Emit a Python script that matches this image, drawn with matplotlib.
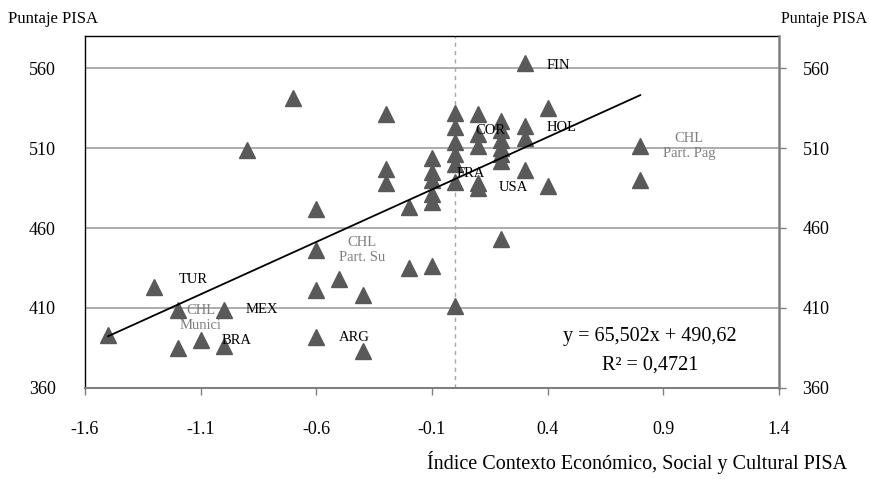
import numpy as np
import matplotlib
matplotlib.use("Agg")
import matplotlib.pyplot as plt

plt.rcParams['font.family'] = ['Liberation Serif', 'DejaVu Serif']
plt.rcParams['axes.unicode_minus'] = False

# ===== DATA =====
index_escs = [-1.5, -1.3, -1.2, -1.2, -1.1, -1.0, -1.0, -0.9, -0.7,
              -0.6, -0.6, -0.6, -0.6, -0.5, -0.4, -0.4, -0.3, -0.3, -0.3, -0.2, -0.2,
              -0.1, -0.1, -0.1, -0.1, -0.1, -0.1,
              0.0, 0.0, 0.0, 0.0, 0.0, 0.0, 0.0,
              0.1, 0.1, 0.1, 0.1, 0.1,
              0.2, 0.2, 0.2, 0.2, 0.2, 0.2, 0.2,
              0.3, 0.3, 0.3, 0.3,
              0.4, 0.4,
              0.8, 0.8]
pisa_score = [393, 423, 409, 385, 390, 409, 386, 509, 541,
              472, 446, 421, 392, 428, 418, 383, 531, 497, 488, 473, 435,
              504, 495, 490, 481, 476, 436,
              532, 523, 514, 506, 500, 489, 411,
              531, 519, 511, 488, 485,
              527, 521, 515, 510, 506, 502, 453,
              563, 524, 516, 496,
              535, 486,
              511, 490]

label_names = ["TUR", "CHL\nMunici", "MEX", "BRA", "CHL\nPart. Su", "ARG",
               "FRA", "COR", "USA", "FIN", "HOL", "CHL\nPart. Pag"]
label_points = [1, 2, 5, 6, 10, 12, 32, 35, 38, 46, 47, 52]

trend_slope = 65.502
trend_intercept = 490.62
r_squared = 0.4721

x_ticks = [-1.6, -1.1, -0.6, -0.1, 0.4, 0.9, 1.4]
y_ticks = [360, 410, 460, 510, 560]

# label layout: offset in pixels from the point, colour, alignment
label_style = {
    "TUR": ((24, 8), "black", "left"),
    "CHL\nMunici": ((23, -8), "#7f7f7f", "center"),
    "MEX": ((22, 0), "black", "left"),
    "BRA": ((-2, 6), "black", "left"),
    "CHL\nPart. Su": ((46, 0), "#7f7f7f", "center"),
    "ARG": ((23, -1), "black", "left"),
    "FRA": ((1, 8), "black", "left"),
    "COR": ((-3, 3), "black", "left"),
    "USA": ((20, 1), "black", "left"),
    "FIN": ((22, -2), "black", "left"),
    "HOL": ((22, -2), "black", "left"),
    "CHL\nPart. Pag": ((49, 0), "#7f7f7f", "center"),
}

fig = plt.figure(figsize=(8.7, 4.79), dpi=100)
ax = fig.add_axes([85 / 870, 1 - 388 / 479, 694 / 870, 352 / 479])

ax.set_xlim(-1.6, 1.4)
ax.set_ylim(360, 580)

# grid and zero line
ax.set_yticks(y_ticks)
ax.yaxis.grid(True, color="#a6a6a6", lw=1.3)
ax.set_axisbelow(True)
ax.axvline(0, color="#a6a6a6", lw=1, ls=(0, (3, 3)), zorder=1)

# points
ax.plot(index_escs, pisa_score, ls="none", marker="^", ms=11,
        color="#595959", zorder=3)

# trend line
xs = np.array([min(index_escs), max(index_escs)])
ax.plot(xs, trend_slope * xs + trend_intercept, color="black", lw=1.3, zorder=4)

# country labels
for name, idx in zip(label_names, label_points):
    (dx, dy), col, ha = label_style[name]
    ax.annotate(name, xy=(index_escs[idx], pisa_score[idx]), xytext=(dx, dy),
                textcoords="offset pixels", ha=ha, va="center", color=col,
                fontsize=10.5, multialignment="center", zorder=5)

# equation
ax.text(0.814, 0.147, "y = 65,502x + 490,62", transform=ax.transAxes,
        ha="center", va="center", fontsize=14.5)
ax.text(0.814, 0.066, "R² = 0,4721", transform=ax.transAxes,
        ha="center", va="center", fontsize=14.5)

# axes styling
ax.set_xticks(x_ticks)
ax.set_xticklabels([f"{t:.1f}" for t in x_ticks])
ax.tick_params(axis="x", direction="out", length=5, width=1, color="#808080",
               pad=19, labelsize=13)
ax.tick_params(axis="y", length=0, pad=21, labelsize=13)
ax.spines["left"].set_color("black")
ax.spines["left"].set_linewidth(1)
ax.spines["top"].set_color("black")
ax.spines["top"].set_linewidth(1)
ax.spines["bottom"].set_color("#808080")
ax.spines["bottom"].set_linewidth(1.5)
ax.spines["right"].set_visible(False)

ax2 = ax.twinx()
ax2.set_ylim(360, 580)
ax2.set_yticks(y_ticks)
ax2.tick_params(axis="y", direction="out", length=5, width=1, color="#808080",
                pad=12, labelsize=13)
for s in ["left", "top", "bottom"]:
    ax2.spines[s].set_visible(False)
ax2.spines["right"].set_color("#808080")
ax2.spines["right"].set_linewidth(1.8)

fig.text(8 / 870, 1 - 19 / 479, "Puntaje PISA", ha="left", va="center", fontsize=12)
fig.text(867 / 870, 1 - 19 / 479, "Puntaje PISA", ha="right", va="center", fontsize=11.5)
fig.text(847 / 870, 1 - 462 / 479, "Índice Contexto Económico, Social y Cultural PISA",
         ha="right", va="center", fontsize=14.5)

fig.savefig("out.png", dpi=100)
